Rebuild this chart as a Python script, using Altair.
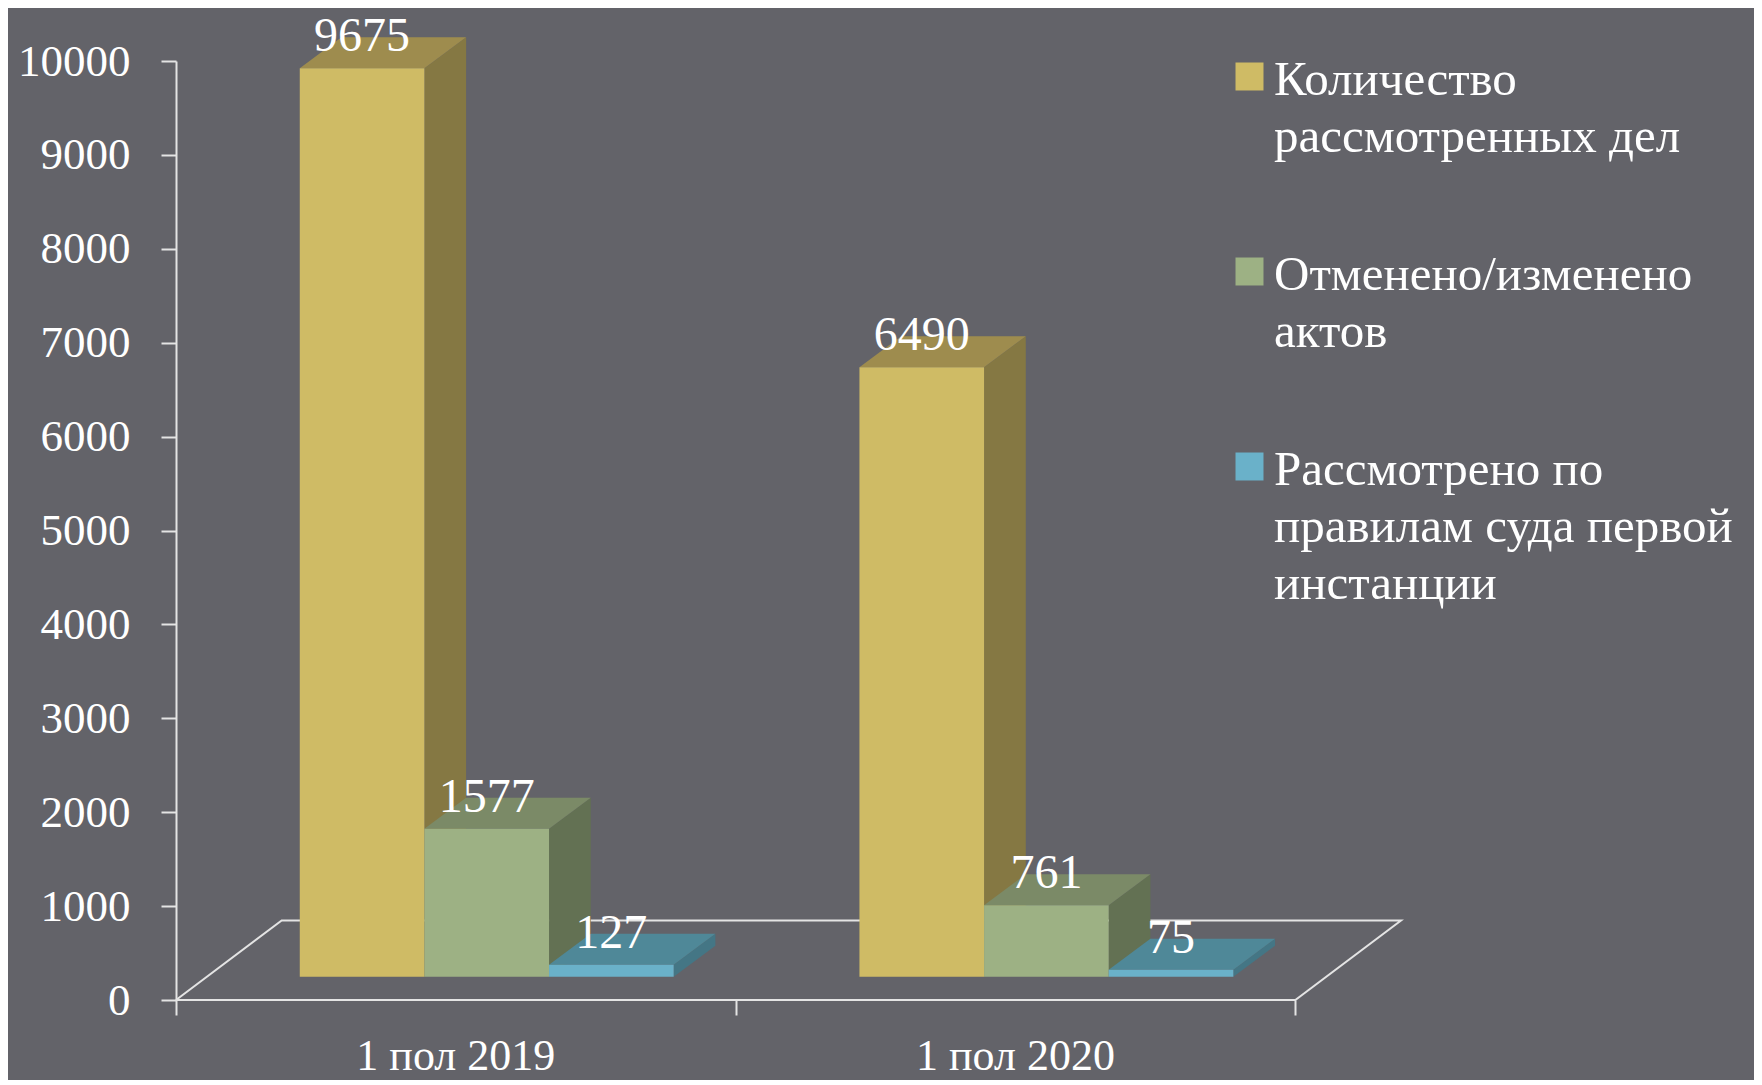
import altair as alt
import pandas as pd

# ---------------- data ----------------
categories = ["1 пол 2019", "1 пол 2020"]
series = [
    "Количество\nрассмотренных дел",
    "Отменено/изменено\nактов",
    "Рассмотрено по\nправилам суда первой\nинстанции",
]
values_2019 = [9675, 1577, 127]
values_2020 = [6490, 761, 75]
y_ticks = [0, 1000, 2000, 3000, 4000, 5000, 6000, 7000, 8000, 9000, 10000]

front_colors = ["#cfbb65", "#9db184", "#6ab1c9"]
top_colors = ["#9e8c4e", "#7b8a67", "#4f8898"]
side_colors = ["#857843", "#637153", "#447685"]

# ---------------- 3D geometry (in data units) ----------------
BW = 0.2227        # bar width (category units)
BAR_DX = 0.0745    # bar depth, x
BAR_DY = 330       # bar depth, value units
POS_DX = 0.0552    # bar placement depth on the floor, x
POS_DY = 248       # bar placement depth on the floor, value units
FLOOR_DX = 0.1888  # floor depth, x
FLOOR_DY = 847     # floor depth, value units
XMAX = len(categories) + FLOOR_DX

rows = []
for ci, (cat, vals) in enumerate(zip(categories, [values_2019, values_2020])):
    for si, v in enumerate(vals):
        rows.append(dict(ci=ci, si=si, category=cat, series=series[si], value=v,
                         topc=top_colors[si], sidec=side_colors[si], bid=f"{ci}-{si}"))
bars = pd.DataFrame(rows)

floor = pd.DataFrame({
    "i": [0, 1, 2, 3, 4],
    "fx": [0, len(categories), len(categories) + FLOOR_DX, FLOOR_DX, 0],
    "fy": [0, 0, FLOOR_DY, FLOOR_DY, 0],
})
cats = pd.DataFrame({"ci": list(range(len(categories))), "category": categories})

# ---------------- shared scales / axes ----------------
LINE = "#e4e4e4"
FONT = "Liberation Serif"
LEGEND_DY = -21
xscale = alt.Scale(domain=[0, XMAX], nice=False, zero=False)
yscale = alt.Scale(domain=[0, 10000], nice=False)
xaxis = alt.Axis(values=[0, 1, 2], labels=False, domain=False, grid=False, title=None,
                 tickSize=15, tickColor=LINE, tickWidth=2)
yaxis = alt.Axis(values=y_ticks, grid=False, title=None, format="d",
                 domainColor=LINE, domainWidth=2, tickColor=LINE, tickWidth=2, tickSize=15,
                 labelFont=FONT, labelFontSize=45, labelColor="white", labelPadding=31,
                 labelOffset=-LEGEND_DY)


def X(f):
    return alt.X(f, scale=xscale, axis=xaxis)


def Y(f):
    return alt.Y(f, scale=yscale, axis=yaxis, stack=None)


geo = alt.Chart(bars).transform_calculate(
    x0=f"datum.ci + 0.5 - 1.5*{BW} + datum.si*{BW} + {POS_DX}",
).transform_calculate(
    x1=f"datum.x0 + {BW}",
    b=f"{POS_DY}",
    t=f"{POS_DY} + datum.value",
    xm=f"datum.x0 + {BW}/2",
)

floor_layer = alt.Chart(floor).mark_line(color=LINE, strokeWidth=2).encode(
    x=X("fx:Q"), y=Y("fy:Q"), order="i:Q"
)

side = geo.transform_calculate(k="[0, 1]").transform_flatten(["k"]).transform_calculate(
    px=f"datum.x1 + datum.k*{BAR_DX}",
    lo=f"datum.b + datum.k*{BAR_DY}",
    hi=f"datum.t + datum.k*{BAR_DY}",
).mark_area(opacity=1).encode(
    x=X("px:Q"), y=Y("lo:Q"), y2="hi:Q", detail="bid:N",
    color=alt.Color("sidec:N", scale=None),
)

top = geo.transform_calculate(k="[0, 1, 2, 3]").transform_flatten(["k"]).transform_calculate(
    px=f"datum.k == 0 ? datum.x0 : datum.k == 1 ? datum.x0 + {BAR_DX} : datum.k == 2 ? datum.x1 : datum.x1 + {BAR_DX}",
    lo=f"datum.k < 3 ? datum.t : datum.t + {BAR_DY}",
    hi=f"datum.k == 0 ? datum.t : datum.t + {BAR_DY}",
).mark_area(opacity=1).encode(
    x=X("px:Q"), y=Y("lo:Q"), y2="hi:Q", detail="bid:N",
    color=alt.Color("topc:N", scale=None),
)

front = geo.mark_rect().encode(
    x=X("x0:Q"), x2="x1:Q", y=Y("b:Q"), y2="t:Q",
    color=alt.Color(
        "series:N",
        scale=alt.Scale(domain=series, range=front_colors),
        legend=alt.Legend(
            orient="none", legendX=1049, legendY=-9, title=None, padding=0,
            symbolType="square", symbolSize=784, symbolStrokeWidth=0, symbolOpacity=1,
            labelFont=FONT, labelFontSize=49, labelColor="white", labelLimit=0,
            labelExpr="split(datum.label, '\\n')", labelOffset=0,
            labelBaseline="top", rowPadding=85,
        ),
    ),
)

value_labels = geo.mark_text(font=FONT, fontSize=48, color="white", baseline="alphabetic",
                             dy=-17).encode(
    x=X("xm:Q"), y=Y("t:Q"), text="value:Q"
)

cat_labels = alt.Chart(cats).transform_calculate(cx="datum.ci + 0.5", cy="0").mark_text(
    font=FONT, fontSize=44, color="white", baseline="alphabetic", dy=70
).encode(x=X("cx:Q"), y=Y("cy:Q"), text="category:N")

chart = alt.layer(floor_layer, side, top, front, value_labels, cat_labels).properties(
    width=1225, height=939,
    padding={"left": 168, "top": 53, "right": 353, "bottom": 80},
    autosize=alt.AutoSizeParams(type="none"),
).configure(
    background="#636369",
    style={"guide-label": {"lineHeight": 57, "dy": LEGEND_DY}},
).configure_view(stroke=None)

chart.save("out.html", embed_options={"renderer": "svg", "actions": False})
